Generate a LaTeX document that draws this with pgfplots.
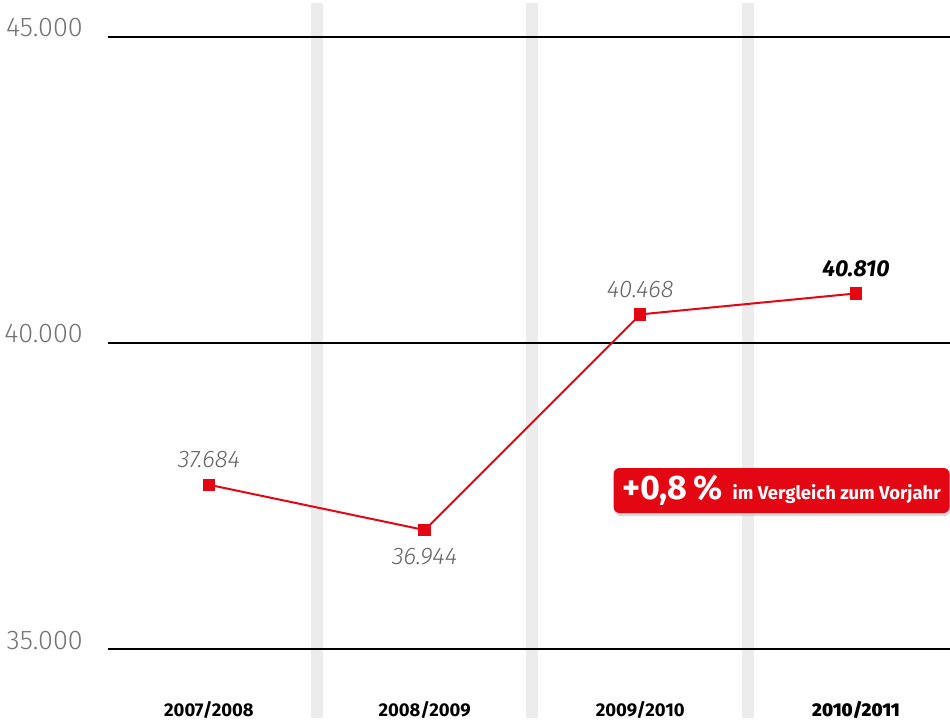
\documentclass[border=0pt]{standalone}
\usepackage{pgfplots}
\pgfplotsset{compat=1.18}
\usepackage{fontspec}
\setmainfont{Fira Sans}[UprightFont=* Light, ItalicFont=* Light Italic, BoldFont=* Bold, BoldItalicFont=* Bold Italic]
\newfontfamily\heavyfont{Fira Sans ExtraBold}
\usetikzlibrary{shadows}
\definecolor{dbred}{RGB}{227,6,19}
\definecolor{band}{RGB}{236,236,236}
\definecolor{ylab}{RGB}{115,115,115}
\definecolor{dlab}{RGB}{100,100,100}
\begin{document}
\begin{tikzpicture}
\path[use as bounding box] (-108pt,-4pt) rectangle (842pt,718pt);
\begin{axis}[
  at={(0,0)}, anchor=south west,
  scale only axis,
  width=842pt, height=715pt,
  xmin=-0.468, xmax=3.436,
  ymin=33873, ymax=45556,
  scaled y ticks=false,
  axis line style={draw=none},
  major tick length=0pt,
  xtick={0,1,2,3},
  xticklabels={2007/2008,2008/2009,2009/2010,{\heavyfont 2010/2011}},
  xticklabel style={anchor=base, yshift=1pt, font=\bfseries\fontsize{18.5}{18.5}\selectfont, text=black},
  ytick={35000,40000,45000},
  yticklabels={35.000,40.000,45.000},
  yticklabel style={anchor=east, inner sep=0pt, xshift=-25pt, yshift=9pt, font=\fontsize{27}{27}\selectfont, text=ylab},
  extra x ticks={0.5,1.5,2.5},
  extra x tick labels={},
  extra x tick style={grid=major, major grid style={band, line width=12pt}},
  extra y ticks={35000,40000,45000},
  extra y tick labels={},
  extra y tick style={grid=major, major grid style={black, line width=1.5pt}},
  clip=false,
]
\addplot[dbred, line width=2pt, mark=square*, mark size=5.2pt, mark options={fill=dbred, draw=dbred, rounded corners=1.5pt}]
  coordinates {(0,37684) (1,36944) (2,40468) (3,40810)};
\node[anchor=base, yshift=17pt, text=dlab, font=\itshape\fontsize{24}{24}\selectfont] at (axis cs:0,37684) {37.684};
\node[anchor=base, yshift=-34pt, text=dlab, font=\itshape\fontsize{24}{24}\selectfont] at (axis cs:1,36944) {36.944};
\node[anchor=base, yshift=17pt, text=dlab, font=\itshape\fontsize{24}{24}\selectfont] at (axis cs:2,40468) {40.468};
\node[anchor=base, yshift=17pt, text=black, font=\bfseries\itshape\fontsize{23}{23}\selectfont] at (axis cs:3,40810) {40.810};
\node[fill=dbred, rounded corners=6pt, text=white, minimum width=336pt, minimum height=45pt, inner sep=0pt,
      drop shadow={shadow xshift=1pt, shadow yshift=-3pt, fill=black!25, opacity=0.6}]
  at (axis cs:2.655,37590)
  {{\bfseries\fontsize{34}{34}\selectfont +0,8\,\%}\hspace{10pt}{\bfseries\fontsize{18.5}{18.5}\selectfont im Vergleich zum Vorjahr}};
\end{axis}
\end{tikzpicture}
\end{document}
